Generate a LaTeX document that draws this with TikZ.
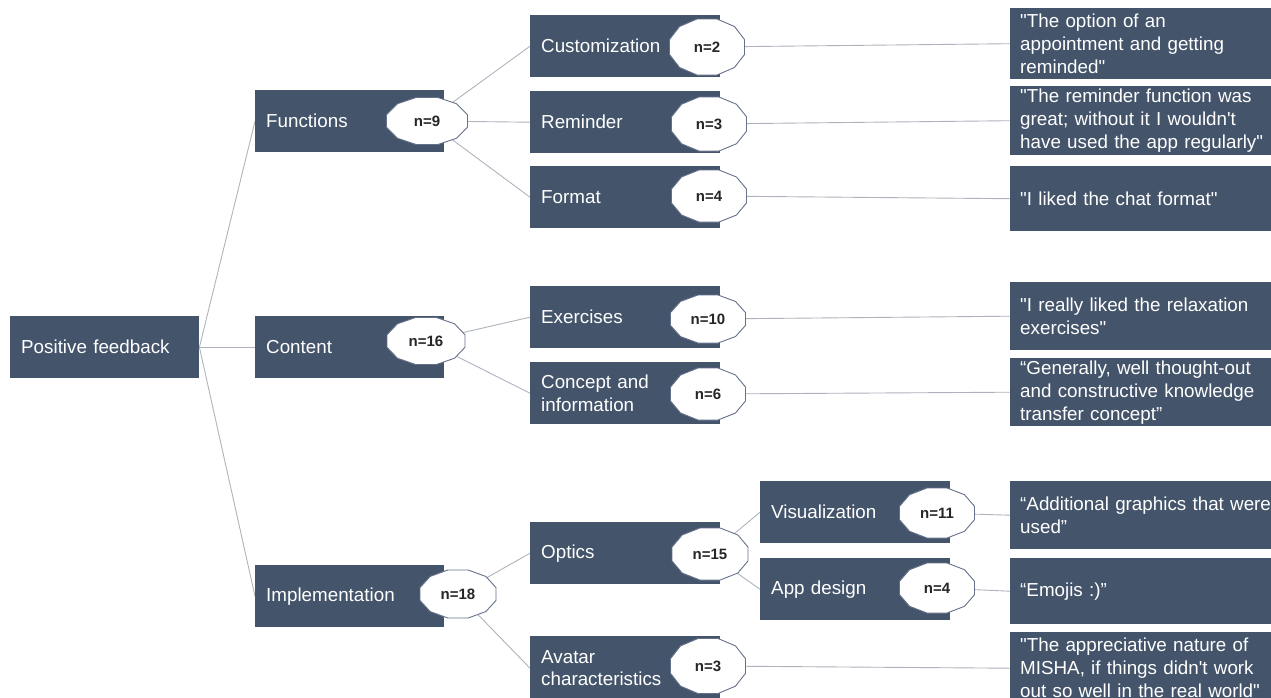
\documentclass[tikz,border=0pt]{standalone}
\usepackage{fontspec}
\setmainfont{Liberation Sans}
\newfontfamily\plainarial{Liberation Sans}
\usetikzlibrary{backgrounds,shapes.geometric}
\definecolor{boxfill}{HTML}{44546A}
\definecolor{badgeline}{HTML}{65718A}
\definecolor{conn}{HTML}{AEB3BC}
\tikzset{
  lbl/.style={rectangle, fill=boxfill, text=white, anchor=north west, align=left,
    inner xsep=11pt, inner ysep=0pt, font=\plainarial\fontsize{18.8}{22.5}\selectfont},
  qbox/.style={rectangle, fill=boxfill, text=white, anchor=north west, align=left,
    inner xsep=10pt, inner ysep=0pt, text width=255pt, font=\plainarial\fontsize{18.8}{23}\selectfont},
  badge/.style={ellipse, inner sep=0pt, font=\plainarial\fontsize{15}{17}\selectfont\bfseries, text=black!85},
  conline/.style={draw=conn, line width=0.9pt},
  badgeshape/.style={fill=white, draw=badgeline, line width=0.9pt},
}
\newcommand\badgeat[6]{%
  \path[badgeshape] plot[samples=13, domain=15:375, variable=\t]
    ({#2+#4/2/cos(15)*cos(\t)},{#3+#5/2/cos(15)*sin(\t)}) -- cycle;
  \node[badge, minimum width=#4pt, minimum height=#5pt] (#1) at (#2,#3) {#6};
}
\begin{document}
\begin{tikzpicture}[x=1pt,y=-1pt]
\clip (0,0) rectangle (1271,697);
% level 0 and 1
\node[lbl, text width=167pt, minimum height=62pt] (root) at (10,316) {Positive feedback};
\node[lbl, text width=167pt, minimum height=62pt] (fun) at (255,90) {Functions};
\node[lbl, text width=167pt, minimum height=62pt] (con) at (255,316) {Content};
\node[lbl, text width=167pt, minimum height=62pt] (imp) at (255,565) {Implementation};
% level 2
\node[lbl, text width=168pt, minimum height=62pt] (cust) at (530,15) {Customization};
\node[lbl, text width=168pt, minimum height=62pt] (rem) at (530,91) {Reminder};
\node[lbl, text width=168pt, minimum height=62pt] (fmt) at (530,166) {Format};
\node[lbl, text width=168pt, minimum height=62pt] (exe) at (530,286) {Exercises};
\node[lbl, text width=168pt, minimum height=62pt] (cpt) at (530,362) {Concept and\\information};
\node[lbl, text width=168pt, minimum height=62pt] (opt) at (530,522) {Optics};
\node[lbl, text width=168pt, minimum height=64pt] (ava) at (530,636) {Avatar\\characteristics};
% level 3
\node[lbl, text width=168pt, minimum height=62pt] (vis) at (760,481) {Visualization};
\node[lbl, text width=168pt, minimum height=62pt] (app) at (760,558) {App design};
% quotes
\node[qbox, minimum height=71pt] (q1) at (1010,8) {"The option of an\\appointment and getting\\reminded"};
\node[qbox, minimum height=69pt] (q2) at (1010,86) {"The reminder function was\\great; without it I wouldn't\\have used the app regularly"};
\node[qbox, minimum height=65pt] (q3) at (1010,166) {"I liked the chat format"};
\node[qbox, minimum height=68pt] (q4) at (1010,282) {"I really liked the relaxation\\exercises"};
\node[qbox, minimum height=68pt] (q5) at (1010,358) {“Generally, well thought-out\\and constructive knowledge\\transfer concept”};
\node[qbox, minimum height=68pt] (q6) at (1010,481) {“Additional graphics that were\\used”};
\node[qbox, minimum height=66pt] (q7) at (1010,558) {“Emojis :)”};
\node[qbox, minimum height=72pt] (q8) at (1010,632) {"The appreciative nature of\\MISHA, if things didn't work\\out so well in the real world"};
% badges
\badgeat{b9}{427}{121}{81}{47}{n=9}
\badgeat{b16}{426}{341}{78}{47}{n=16}
\badgeat{b18}{458}{594}{76}{48}{n=18}
\badgeat{b2}{707}{47}{75}{56}{n=2}
\badgeat{b3}{709}{124}{75}{54}{n=3}
\badgeat{b4}{709}{196}{75}{52}{n=4}
\badgeat{b10}{708}{319}{75}{48}{n=10}
\badgeat{b6}{708}{394}{75}{52}{n=6}
\badgeat{b15}{710}{554}{76}{52}{n=15}
\badgeat{b3a}{708}{666}{75}{55}{n=3}
\badgeat{b11}{937}{513}{75}{50}{n=11}
\badgeat{b4a}{937}{588}{75}{50}{n=4}
% connectors
\begin{scope}[on background layer]
\draw[conline] (root.east) -- (fun.west);
\draw[conline] (root.east) -- (con.west);
\draw[conline] (root.east) -- (imp.west);
\draw[conline] (b9) -- (cust.west);
\draw[conline] (b9) -- (rem.west);
\draw[conline] (b9) -- (fmt.west);
\draw[conline] (b16) -- (exe.west);
\draw[conline] (b16) -- (cpt.west);
\draw[conline] (b18) -- (opt.west);
\draw[conline] (b18) -- (ava.west);
\draw[conline] (b15) -- (vis.west);
\draw[conline] (b15) -- (app.west);
\draw[conline] (b2) -- (q1.west);
\draw[conline] (b3) -- (q2.west);
\draw[conline] (b4) -- (q3.west);
\draw[conline] (b10) -- (q4.west);
\draw[conline] (b6) -- (q5.west);
\draw[conline] (b11) -- (q6.west);
\draw[conline] (b4a) -- (q7.west);
\draw[conline] (b3a) -- (q8.west);
\end{scope}
\end{tikzpicture}
\end{document}
